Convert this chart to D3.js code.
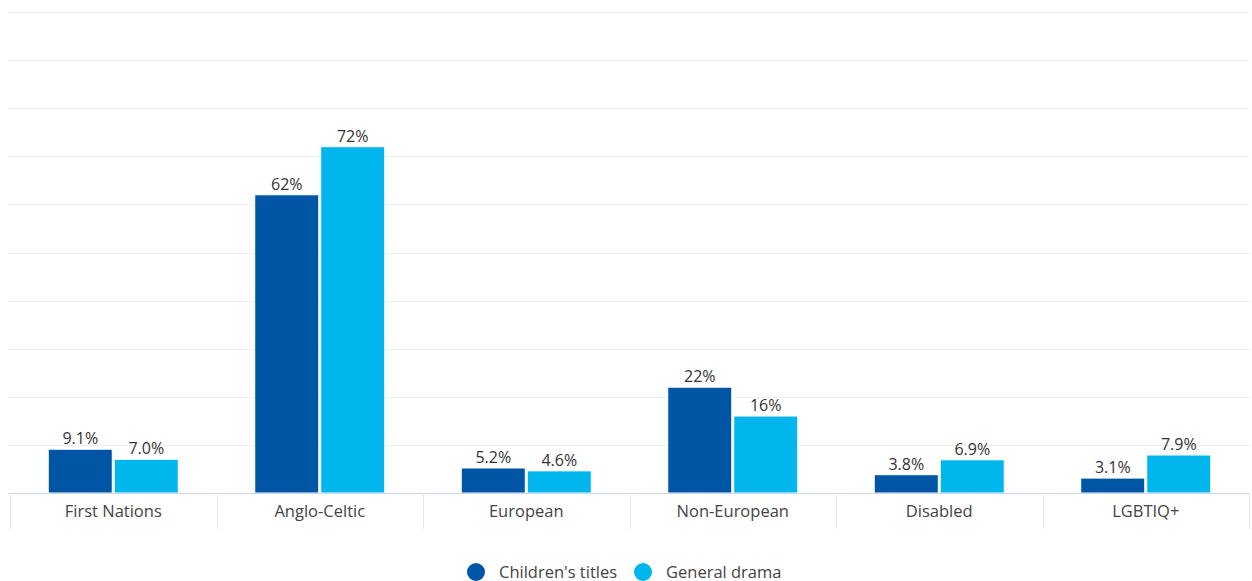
<!DOCTYPE html>
<html><head><meta charset="utf-8">
<script src="https://cdn.jsdelivr.net/npm/d3@7"></script>
<style>body{margin:0;background:#fff}svg{display:block;font-family:"Open Sans",sans-serif}</style>
</head><body><svg id="c" width="1252" height="581"></svg>
<script>
const categories = ["First Nations","Anglo-Celtic","European","Non-European","Disabled","LGBTIQ+"];
const seriesNames = ["Children's titles","General drama"];
const childrens = [9.1, 62, 5.2, 22, 3.8, 3.1];
const general = [7.0, 72, 4.6, 16, 6.9, 7.9];
const childrensLabels = ["9.1%","62%","5.2%","22%","3.8%","3.1%"];
const generalLabels = ["7.0%","72%","4.6%","16%","6.9%","7.9%"];
const yTicks = [0,10,20,30,40,50,60,70,80,90,100];
const colors = ["#0055a4","#00b6ed"];

const svg = d3.select("#c");
const L = 10, R = 1249, T = 12, B = 493;
const x = d3.scaleBand().domain(categories).range([L, R]);
const y = d3.scaleLinear().domain([0,100]).range([B, T]);
const x1 = d3.scaleBand().domain(seriesNames).range([0, 130]).paddingInner(0.03);
const off = (x.bandwidth() - 130) / 2;

svg.append("g").selectAll("line").data(yTicks.filter(d=>d>0)).join("line")
  .attr("x1", 8).attr("x2", 1250)
  .attr("y1", d=>Math.round(y(d))+0.5).attr("y2", d=>Math.round(y(d))+0.5)
  .attr("stroke", "#efefef").attr("stroke-width", 1);

const data = [childrens, general];
const labels = [childrensLabels, generalLabels];
seriesNames.forEach((s, si) => {
  const g = svg.append("g");
  g.selectAll("rect").data(categories).join("rect")
    .attr("x", (c) => x(c) + off + x1(s))
    .attr("y", (c,i) => y(data[si][i]))
    .attr("width", x1.bandwidth())
    .attr("height", (c,i) => B - y(data[si][i]))
    .attr("fill", colors[si]).attr("stroke", "#fff").attr("stroke-width", 1);
  g.selectAll("text").data(categories).join("text")
    .attr("x", (c) => x(c) + off + x1(s) + x1.bandwidth()/2)
    .attr("y", (c,i) => y(data[si][i]) - 5)
    .attr("text-anchor", "middle").attr("font-size", 16).attr("fill", "#333")
    .text((c,i) => labels[si][i]);
});

const ax = svg.append("g").attr("transform", `translate(0,${B})`)
  .call(d3.axisBottom(x).tickSize(0).tickPadding(12));
ax.select(".domain").attr("stroke", "#ccd6eb").attr("d", `M8,0.5H1250`);
ax.selectAll(".tick text").attr("font-size", 16.5).attr("fill", "#444").attr("font-family", "'Open Sans',sans-serif");
const bounds = categories.map(c => x(c)).concat([R]);
svg.append("g").selectAll("line").data(bounds).join("line")
  .attr("x1", d=>Math.round(d)+0.5).attr("x2", d=>Math.round(d)+0.5)
  .attr("y1", B).attr("y2", B+36).attr("stroke", "#e6e6e6");

const leg = svg.append("g").attr("transform", "translate(0,572)");
const legX = [476, 643];
seriesNames.forEach((s, i) => {
  leg.append("circle").attr("cx", legX[i]).attr("cy", 0).attr("r", 9).attr("fill", colors[i]);
  leg.append("text").attr("x", legX[i] + 23).attr("y", 6).attr("font-size", 16.5).attr("fill", "#444").text(s);
});
</script></body></html>
